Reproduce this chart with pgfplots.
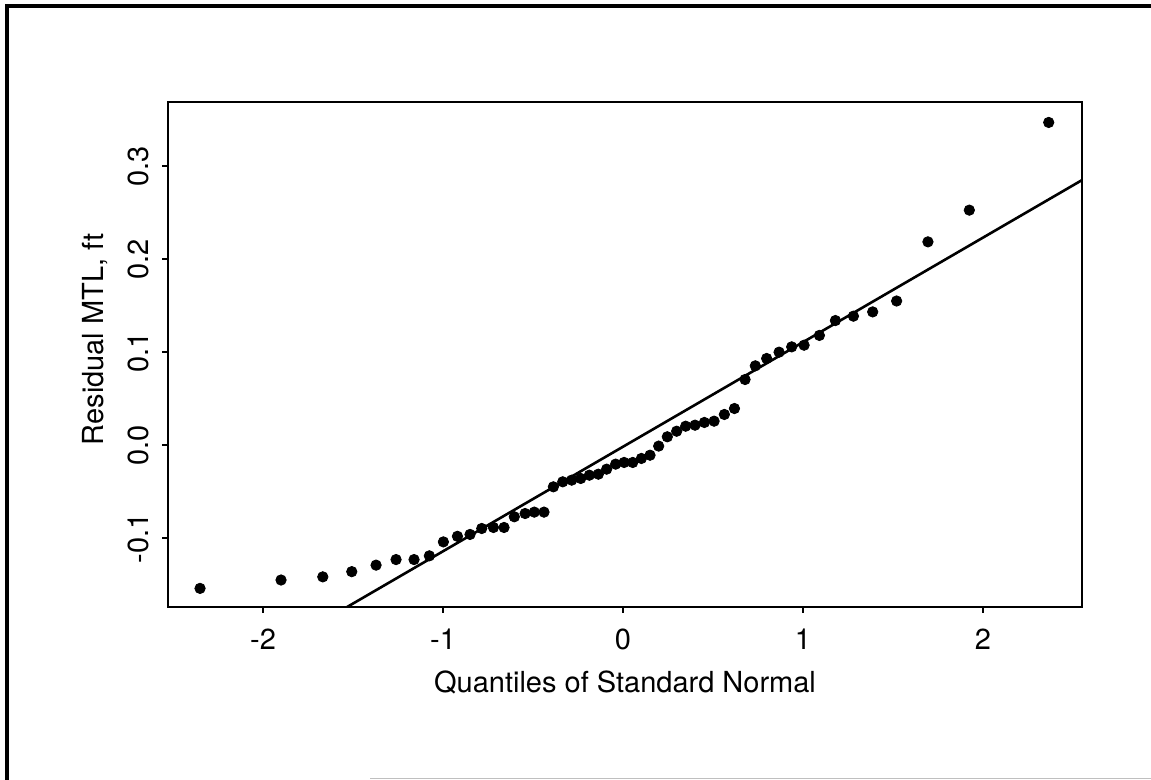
\documentclass[border=0pt]{standalone}
\usepackage{fontspec}
\setmainfont{TeX Gyre Heros}
\usepackage{pgfplots}
\pgfplotsset{compat=1.18}

% Residuals of the MTL fit against standard normal quantiles
\begin{document}
\begin{tikzpicture}
\useasboundingbox (0pt,0pt) rectangle (575.5pt,390pt);
% page frame
\draw[line width=1.6pt] (3.5pt,0pt) -- (3.5pt,387pt) -- (575.5pt,387pt);
\draw[line width=0.7pt, black!25] (185pt,0.6pt) -- (575.5pt,0.6pt);
\begin{axis}[
  at={(84pt,86.5pt)}, anchor=south west,
  scale only axis, width=457pt, height=252.5pt,
  xmin=-2.528, xmax=2.55, ymin=-0.174, ymax=0.369,
  axis line style={line width=1.1pt},
  tick align=outside, tick pos=left,
  major tick length=3pt,
  every tick/.style={black, line width=0.8pt},
  xtick={-2,-1,0,1,2}, xticklabels={-2,-1,0,1,2},
  ytick={-0.1,0,0.1,0.2,0.3}, yticklabels={-0.1,0.0,0.1,0.2,0.3},
  ticklabel style={font=\fontsize{14.5}{17}\selectfont, inner sep=0pt},
  xticklabel style={anchor=north, yshift=-8pt},
  yticklabel style={rotate=90, anchor=south, yshift=6.5pt},
  label style={font=\fontsize{14.5}{17}\selectfont, inner sep=0pt},
  xlabel={Quantiles of Standard Normal},
  xlabel style={at={(axis description cs:0.5,0)}, anchor=north, yshift=-31.5pt},
  ylabel={Residual MTL, ft},
  ylabel style={at={(axis description cs:0,0.53)}, anchor=south, yshift=30pt},
  clip=true,
]
% reference line
\addplot[black, line width=1.3pt] coordinates {(-1.533,-0.174) (2.55,0.285)};
% ordered residuals
\addplot[only marks, mark=*, mark size=2.6pt, black] coordinates {
(-2.35,-0.154) (-1.90,-0.145) (-1.668,-0.1416) (-1.507,-0.136) (-1.372,-0.129)
(-1.261,-0.123) (-1.161,-0.123) (-1.076,-0.119) (-0.998,-0.104) (-0.920,-0.098)
(-0.850,-0.096) (-0.785,-0.0896) (-0.720,-0.0885) (-0.661,-0.0885) (-0.604,-0.077)
(-0.544,-0.0735) (-0.493,-0.072) (-0.439,-0.072) (-0.387,-0.0448) (-0.335,-0.0394)
(-0.285,-0.0376) (-0.235,-0.0358) (-0.187,-0.0323) (-0.137,-0.0312) (-0.091,-0.0258)
(-0.041,-0.0204) (0.006,-0.0186) (0.054,-0.0186) (0.102,-0.0143) (0.150,-0.0108)
(0.198,-0.001) (0.246,0.009) (0.298,0.015) (0.348,0.0204) (0.400,0.0215)
(0.452,0.0244) (0.506,0.0258) (0.563,0.033) (0.619,0.0394) (0.678,0.0706)
(0.735,0.0853) (0.798,0.0932) (0.867,0.100) (0.937,0.1057) (1.006,0.1075)
(1.091,0.118) (1.180,0.134) (1.280,0.1387) (1.387,0.1433) (1.520,0.155)
(1.694,0.2186) (1.924,0.2527) (2.365,0.347)
};
\end{axis}
\end{tikzpicture}
\end{document}
